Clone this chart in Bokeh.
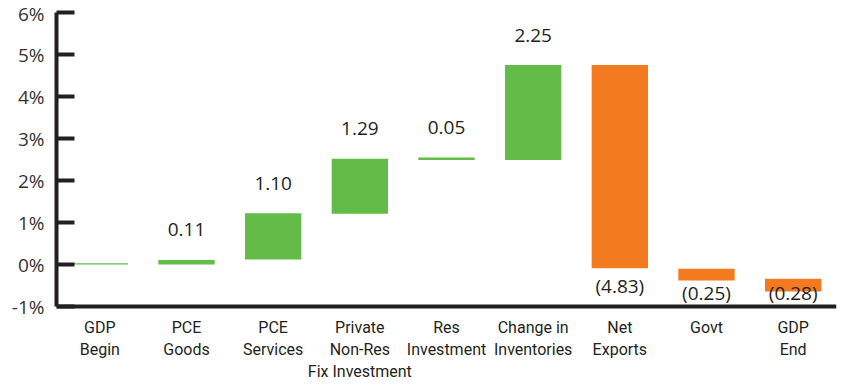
from bokeh.plotting import figure
from bokeh.models import ColumnDataSource, FactorRange, FixedTicker, CustomJSTickFormatter, Span
from bokeh.core.properties import value
from bokeh.embed import file_html
from bokeh.resources import INLINE

categories = ["GDP\nBegin", "PCE\nGoods", "PCE\nServices", "Private\nNon-Res\nFix Investment",
              "Res\nInvestment", "Change in\nInventories", "Net\nExports", "Govt", "GDP\nEnd"]
values = [None, 0.11, 1.10, 1.29, 0.05, 2.25, -4.83, -0.25, -0.28]
bar_low = [0.0, 0.0, 0.12, 1.21, 2.49, 2.49, -0.09, -0.38, -0.64]
bar_high = [0.03, 0.11, 1.22, 2.52, 2.55, 4.75, 4.75, -0.10, -0.34]
y_ticks = [-1, 0, 1, 2, 3, 4, 5, 6]

GREEN = "#63BB48"
ORANGE = "#F47A20"
DARK = "#231F20"

W, H = 837, 382
LEFT, TOP, AXIS_PX, LABEL_PX = 56, 12, 294, 76     # frame layout in pixels
ymin, ymax = y_ticks[0], y_ticks[-1]
y_start = ymin - (ymax - ymin) * LABEL_PX / AXIS_PX

colors = [GREEN if (v is None or v >= 0) else ORANGE for v in values]

p = figure(x_range=FactorRange(*categories, range_padding=0), y_range=(y_start, ymax),
           width=W, height=H, output_backend="svg", toolbar_location=None,
           min_border_left=LEFT, min_border_right=1, min_border_top=TOP, min_border_bottom=0)
p.outline_line_color = None
p.xgrid.grid_line_color = None
p.ygrid.grid_line_color = None
p.below = []

src = ColumnDataSource(dict(cat=categories, low=bar_low, high=bar_high, color=colors))
p.vbar(x="cat", bottom="low", top="high", width=0.65, fill_color="color", line_color=None, source=src)

# baseline (x axis line)
p.add_layout(Span(location=ymin, dimension="width", line_width=4, line_color=DARK))

# value labels
pos_x, pos_y, pos_t = [], [], []
neg_x, neg_y, neg_t = [], [], []
for c, v, lo, hi in zip(categories, values, bar_low, bar_high):
    if v is None:
        continue
    if v >= 0:
        pos_x.append(c); pos_y.append(hi); pos_t.append(f"{v:.2f}")
    else:
        neg_x.append(c); neg_y.append(max(lo - 0.41, -0.68)); neg_t.append(f"({abs(v):.2f})")

p.text(x=pos_x, y=pos_y, text=pos_t, y_offset=-30, text_align="center", text_baseline="middle",
       text_font=value("Open Sans"), text_font_size="19px", text_color=DARK)
p.text(x=neg_x, y=neg_y, text=neg_t, text_align="center", text_baseline="middle",
       text_font=value("Open Sans"), text_font_size="19px", text_color=DARK)

# category labels below the baseline
lx, ly, lt, loff = [], [], [], []
for cat in categories:
    for j, line in enumerate(cat.split("\n")):
        lx.append(cat); ly.append(ymin); lt.append(line); loff.append(21 + 22 * j)
p.text(x=lx, y=ly, text=lt, y_offset=loff, text_align="center", text_baseline="middle",
       text_font=value("Roboto"), text_font_size="16px", text_color=DARK)

ya = p.yaxis[0]
ya.bounds = (ymin, ymax)
ya.ticker = FixedTicker(ticks=y_ticks)
ya.formatter = CustomJSTickFormatter(code="return tick + '%';")
ya.axis_line_width = 4
ya.axis_line_color = DARK
ya.major_tick_line_width = 4
ya.major_tick_line_color = DARK
ya.major_tick_in = 18
ya.major_tick_out = 0
ya.minor_tick_line_color = None
ya.major_label_standoff = 12
ya.major_label_text_font = "Open Sans"
ya.major_label_text_font_size = "19px"
ya.major_label_text_color = "#333333"

open("out.html", "w").write(file_html(p, INLINE))
